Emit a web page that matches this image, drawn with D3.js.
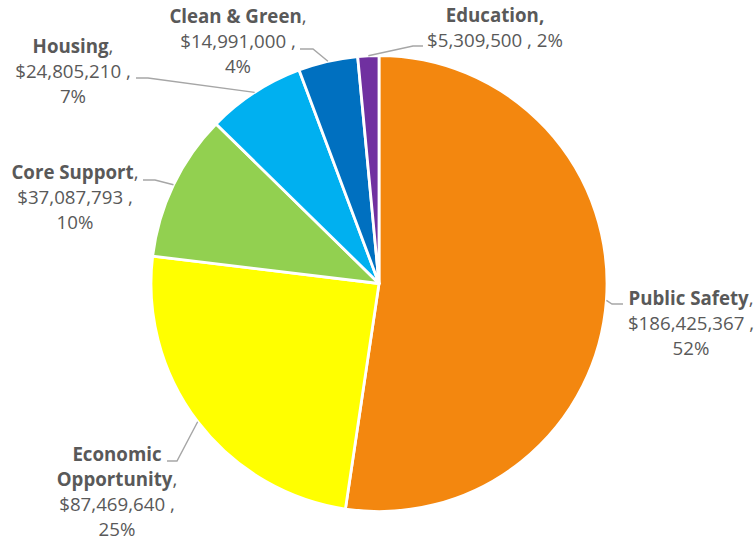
<!DOCTYPE html>
<html>
<head>
<meta charset="utf-8">
<script src="https://cdn.jsdelivr.net/npm/d3@7"></script>
<style>
  html, body { margin: 0; padding: 0; background: #fff; }
  svg { display: block; }
  text { font-family: "Open Sans", sans-serif; fill: #595959; }
</style>
</head>
<body>
<svg id="chart" width="756" height="541"></svg>
<script>
// Budget by program area (dollars)
const categories = ["Public Safety", "Economic Opportunity", "Core Support", "Housing", "Clean & Green", "Education"];
const amounts = [186425367, 87469640, 37087793, 24805210, 14991000, 5309500];
// Share of the total as published with each amount (percent)
const shareLabels = [52, 25, 10, 7, 4, 2];
const colors = ["#F3870F", "#FFFF00", "#92D050", "#00B0F0", "#0070C0", "#7030A0"];

// Label layout: how each name wraps, where its leader line bends and ends, and where the text block sits
const nameLines = [["Public Safety"], ["Economic", "Opportunity"], ["Core Support"], ["Housing"], ["Clean & Green"], ["Education"]];
const labelLayout = [
  { elbow: [612, 304], end: [623, 304], x: 691, y: 305, inline: false, boldComma: false },
  { elbow: [177, 461], end: [167, 461], x: 117, y: 461, inline: false, boldComma: false },
  { elbow: [155, 180], end: [143, 180], x: 75, y: 179, inline: false, boldComma: false },
  { elbow: [148, 78], end: [136, 78], x: 73, y: 53, inline: false, boldComma: false },
  { elbow: [313, 49], end: [300, 49], x: 238, y: 23, inline: false, boldComma: false },
  { elbow: [413, 46], end: [423, 46], x: 495, y: 22, inline: true, boldComma: true }
];

const width = 756, height = 541;
const cx = 379, cy = 283.5, radius = 228;
const lineStep = 25;

const data = categories.map((c, i) => ({
  name: c, value: amounts[i], share: shareLabels[i], color: colors[i], names: nameLines[i], layout: labelLayout[i]
}));
const fmtMoney = d3.format("$,");

const pie = d3.pie().value(d => d.value).sort(null);
const arc = d3.arc().innerRadius(0).outerRadius(radius);
const arcs = pie(data);

const svg = d3.select("#chart");
const g = svg.append("g").attr("transform", `translate(${cx},${cy})`);

g.selectAll("path.slice")
  .data(arcs)
  .join("path")
  .attr("class", "slice")
  .attr("d", arc)
  .attr("fill", d => d.data.color)
  .attr("stroke", "#ffffff")
  .attr("stroke-width", 2.8)
  .attr("stroke-linejoin", "round");

// Leader lines start on the rim at each slice's middle angle
const rimPoint = d => {
  const a = (d.startAngle + d.endAngle) / 2;
  return [cx + radius * Math.sin(a), cy - radius * Math.cos(a)];
};

svg.append("g")
  .selectAll("polyline")
  .data(arcs)
  .join("polyline")
  .attr("points", d => [rimPoint(d), d.data.layout.elbow, d.data.layout.end].map(p => p.join(",")).join(" "))
  .attr("fill", "none")
  .attr("stroke", "#A6A6A6")
  .attr("stroke-width", 1.4);

// Text blocks
const labels = svg.append("g").attr("font-size", 18.7).attr("text-anchor", "middle");

arcs.forEach(d => {
  const L = d.data.layout;
  const money = fmtMoney(d.data.value);
  const pct = `${d.data.share}%`;
  const t = labels.append("text").attr("x", L.x).attr("y", L.y);
  let row = 0;
  d.data.names.forEach((n, k) => {
    const ts = t.append("tspan").attr("x", L.x).attr("dy", row === 0 ? 0 : lineStep);
    ts.append("tspan").attr("font-weight", "bold").text(n);
    if (k === d.data.names.length - 1) {
      ts.append("tspan").attr("font-weight", L.boldComma ? "bold" : "normal").text(",");
    }
    row++;
  });
  if (L.inline) {
    t.append("tspan").attr("x", L.x).attr("dy", lineStep).text(`${money} , ${pct}`);
  } else {
    t.append("tspan").attr("x", L.x).attr("dy", lineStep).text(`${money} ,`);
    t.append("tspan").attr("x", L.x).attr("dy", lineStep).text(pct);
  }
});
</script>
</body>
</html>
